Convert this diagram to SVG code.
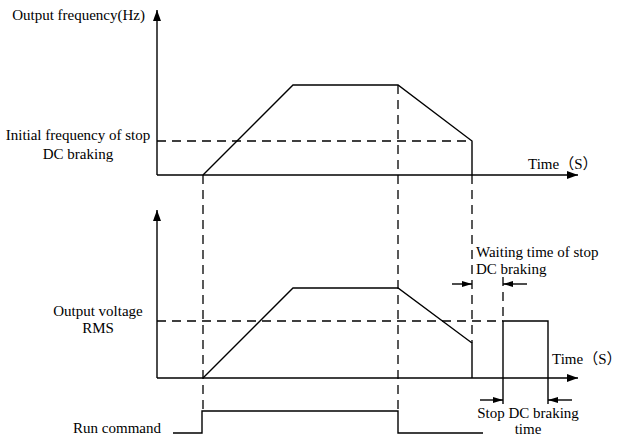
<svg xmlns="http://www.w3.org/2000/svg" width="620" height="436" viewBox="0 0 620 436">
<defs>
<style>
.t{font-size:15px;fill:#000}
.s{fill:none;stroke:#000;stroke-width:1.4}
.d{fill:none;stroke:#000;stroke-width:1.3;stroke-dasharray:9,6}
.ax{fill:none;stroke:#000;stroke-width:1.4}
</style>
<marker id="ah" markerUnits="userSpaceOnUse" markerWidth="12" markerHeight="10" refX="11" refY="4" orient="auto">
<path d="M0,0 L11,4 L0,8 Z" fill="#000"/>
</marker>
<marker id="sa" markerUnits="userSpaceOnUse" markerWidth="12" markerHeight="8" refX="10" refY="3" orient="auto">
<path d="M0,0 L10,3 L0,6 Z" fill="#000"/>
</marker>
</defs>
<rect width="620" height="436" fill="#fff"/>

<g id="axes">
<path class="ax" d="M157,175 V10" marker-end="url(#ah)"/>
<path class="ax" d="M157,175 H578" marker-end="url(#ah)"/>
<path class="ax" d="M157,378 V210" marker-end="url(#ah)"/>
<path class="ax" d="M157,378 H578" marker-end="url(#ah)"/>
</g>

<g id="guides">
<path class="d" d="M157,141 H472"/>
<path class="d" d="M157,321 H503"/>
<path class="d" d="M203,175 V411"/>
<path class="d" d="M398,85 V411"/>
<path class="d" d="M472,175 V343"/>
<path class="d" d="M503,277 V321"/>
</g>

<g id="frequency-curve">
<path class="s" d="M203,175 L293,85 H398 L472,141 V175"/>
</g>

<g id="voltage-curve">
<path class="s" d="M203,378 L293,288 H398 L472,343 V378"/>
<path class="s" d="M503,378 V321 H548 V378"/>
<path class="s" d="M503,378 V404 M548,378 V404"/>
</g>

<g id="run-command">
<path class="s" d="M173,433 H202 V411 H398 V433 H483"/>
</g>

<g id="connectors">
<path class="s" d="M452,284 H472" marker-end="url(#sa)"/>
<path class="s" d="M527,284 H503" marker-end="url(#sa)"/>
<path class="s" d="M480,400 H503" marker-end="url(#sa)"/>
<path class="s" d="M572,400 H548" marker-end="url(#sa)"/>
</g>

<g id="labels" font-family="Liberation Serif, Noto Sans CJK SC, serif">
<text class="t" x="145" y="20" text-anchor="end">Output frequency(Hz)</text>
<text class="t" x="78" y="140" text-anchor="middle">Initial frequency of stop</text>
<text class="t" x="78" y="159" text-anchor="middle">DC braking</text>
<text class="t" x="528" y="169">Time（S）</text>
<text class="t" x="98" y="316" text-anchor="middle">Output voltage</text>
<text class="t" x="98" y="333" text-anchor="middle">RMS</text>
<text class="t" x="552" y="364">Time（S）</text>
<text class="t" x="161" y="433" text-anchor="end">Run command</text>
<text class="t" x="476" y="257">Waiting time of stop</text>
<text class="t" x="476" y="274">DC braking</text>
<text class="t" x="528" y="418" text-anchor="middle">Stop DC braking</text>
<text class="t" x="528" y="434" text-anchor="middle">time</text>
</g>
</svg>
